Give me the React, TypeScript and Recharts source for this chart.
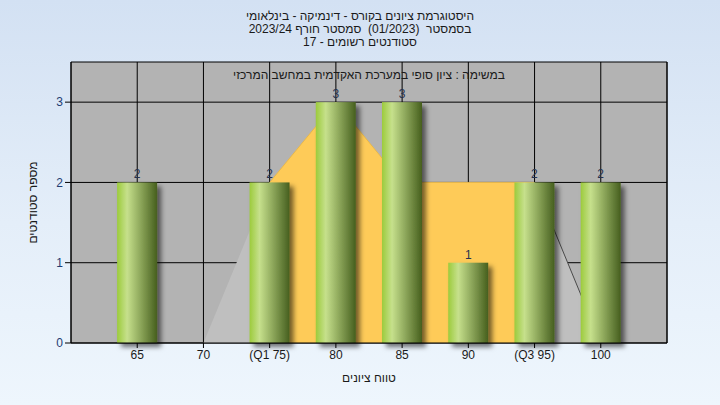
import React from 'react';
import { ComposedChart, Bar, Area, XAxis, YAxis, CartesianGrid, LabelList } from 'recharts';

const scores = [65, 70, 75, 80, 85, 90, 95, 100];
const tickLabels = ['65', '70', '(Q1 75)', '80', '85', '90', '(Q3 95)', '100'];
const counts = [2, null, 2, 3, 3, 1, 2, 2];
const curveAll = [0, 0, 2, 3, 2, 2, 2, 0];
const curveIqr = [null, null, 2, 3, 2, 2, 2, null];
const curveTail = [null, null, null, null, null, null, 2, 0];
const yTicks = [0, 1, 2, 3];

const titleLines = [
    'היסטוגרמת ציונים בקורס - דינמיקה - בינלאומי',
    'בסמסטר  (01/2023)  סמסטר חורף 2023/24',
    'סטודנטים רשומים - 17',
];
const taskLine = 'במשימה : ציון סופי במערכת האקדמית במחשב המרכזי';
const xTitle = 'טווח ציונים';
const yTitle = 'מספר סטודנטים';

const data = scores.map((s, i) => ({
    score: s,
    count: counts[i],
    curve: curveAll[i],
    iqr: curveIqr[i],
    tail: curveTail[i],
}));

const FONT = '"Liberation Sans", "DejaVu Sans", Arial, sans-serif';

const BarShape = (props: any) => {
    const { x, y, width, height } = props;
    if (!height || height <= 0) return null;
    return <rect x={x} y={y} width={width} height={height} fill="url(#barGrad)" filter="url(#barShadow)" />;
};

export default function App() {
    return (
        <div
            style={{
                position: 'fixed',
                left: 0,
                top: 0,
                width: 720,
                height: 405,
                background: 'linear-gradient(180deg, #d3e1f3 0%, #e4eef9 55%, #eef6fd 100%)',
                fontFamily: FONT,
            }}
        >
            {titleLines.map((t, i) => (
                <div
                    key={i}
                    style={{
                        position: 'absolute',
                        left: 0,
                        width: 720,
                        top: 10 + i * 13,
                        textAlign: 'center',
                        direction: 'rtl',
                        whiteSpace: 'pre',
                        fontSize: 12,
                        lineHeight: '13px',
                        color: '#1a1a1a',
                    }}
                >
                    {t}
                </div>
            ))}
            <ComposedChart
                width={720}
                height={405}
                data={data}
                margin={{ top: 62, right: 0, bottom: 32, left: 0 }}
                style={{ position: 'absolute', left: 0, top: 0, fontFamily: FONT }}
            >
                <defs>
                    <linearGradient id="barGrad" x1="0" y1="0" x2="1" y2="0">
                        <stop offset="0%" stopColor="#9ccb3c" />
                        <stop offset="25%" stopColor="#c6e08c" />
                        <stop offset="55%" stopColor="#93ad60" />
                        <stop offset="100%" stopColor="#465f1e" />
                    </linearGradient>
                    <filter id="barShadow" x="-20%" y="-10%" width="160%" height="130%">
                        <feDropShadow dx="4" dy="4" stdDeviation="2.5" floodColor="#000" floodOpacity="0.55" />
                    </filter>
                </defs>
                <CartesianGrid yAxisId="left" stroke="#000" strokeWidth={1} fill="#b3b3b3" fillOpacity={1} />
                <XAxis
                    dataKey="score"
                    type="number"
                    domain={[60, 105]}
                    ticks={scores}
                    tickFormatter={(v) => tickLabels[scores.indexOf(v)]}
                    height={30}
                    axisLine={{ stroke: '#000' }}
                    tickLine={{ stroke: '#000' }}
                    tickSize={5}
                    tick={{ fill: '#1a1a1a', fontSize: 12 }}
                    label={{ value: xTitle, position: 'bottom', offset: 0, fill: '#1a1a1a', fontSize: 12 }}
                />
                <YAxis
                    yAxisId="left"
                    domain={[0, 3.5]}
                    ticks={yTicks}
                    width={71}
                    axisLine={{ stroke: '#000' }}
                    tickLine={{ stroke: '#000' }}
                    tickSize={6}
                    tick={{ fill: '#1f3d73', fontSize: 12 }}
                    label={{ value: yTitle, angle: -90, position: 'center', dx: -3, fill: '#1a1a1a', fontSize: 12 }}
                />
                <YAxis
                    yAxisId="right"
                    orientation="right"
                    domain={[0, 3.5]}
                    ticks={yTicks}
                    width={53}
                    axisLine={{ stroke: '#000' }}
                    tickLine={{ stroke: '#000' }}
                    tickSize={6}
                    tick={{ fill: '#1f3d73', fontSize: 12 }}
                />
                <Area
                    yAxisId="left"
                    dataKey="curve"
                    type="linear"
                    fill="#bfbfbf"
                    fillOpacity={1}
                    stroke="none"
                    isAnimationActive={false}
                />
                <Area
                    yAxisId="left"
                    dataKey="iqr"
                    type="linear"
                    fill="#fecb58"
                    fillOpacity={1}
                    stroke="#e9b84a"
                    strokeWidth={1}
                    isAnimationActive={false}
                />
                <Area
                    yAxisId="left"
                    dataKey="tail"
                    type="linear"
                    fill="none"
                    fillOpacity={0}
                    stroke="#4a4a4a"
                    strokeWidth={1}
                    dot={false}
                    isAnimationActive={false}
                />
                <Bar
                    yAxisId="left"
                    dataKey="count"
                    barSize={40}
                    shape={BarShape}
                    isAnimationActive={false}
                >
                    <LabelList
                        dataKey="count"
                        position="top"
                        offset={4}
                        fill="#26324f"
                        fontSize={12}
                        formatter={(v: any) => (v == null ? '' : v)}
                    />
                </Bar>
                <text x={369} y={79} textAnchor="middle" direction="rtl" fontSize={12} fill="#1a1a1a" fontFamily={FONT}>
                    {taskLine}
                </text>
            </ComposedChart>
        </div>
    );
}
